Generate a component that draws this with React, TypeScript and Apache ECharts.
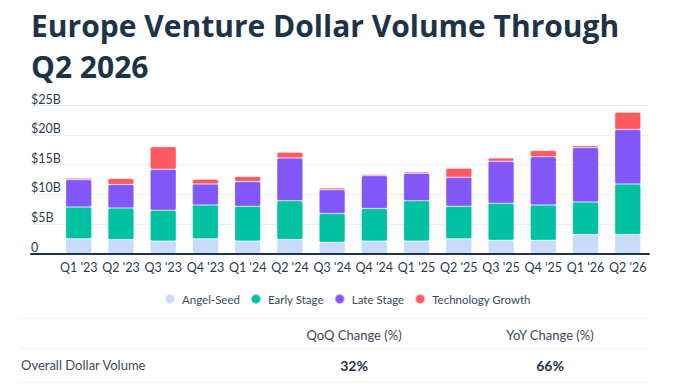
import React, { useEffect, useRef } from "react";
import * as echarts from "echarts";

const quarters = ["Q1 '23", "Q2 '23", "Q3 '23", "Q4 '23", "Q1 '24", "Q2 '24", "Q3 '24", "Q4 '24", "Q1 '25", "Q2 '25", "Q3 '25", "Q4 '25", "Q1 '26", "Q2 '26"];
const angelSeed = [2.5, 2.35, 2.1, 2.5, 2.1, 2.35, 1.9, 2.1, 2.1, 2.5, 2.25, 2.25, 3.2, 3.2];
const earlyStage = [5.35, 5.35, 5.2, 5.7, 5.9, 6.55, 4.85, 5.5, 6.8, 5.5, 6.25, 5.95, 5.5, 8.55];
const lateStage = [4.6, 3.95, 6.95, 3.55, 4.15, 7.25, 4.0, 5.55, 4.65, 4.9, 7.1, 8.15, 9.2, 9.2];
const techGrowth = [0.25, 1.0, 3.8, 0.8, 0.85, 0.95, 0.3, 0.2, 0.2, 1.5, 0.55, 1.05, 0.3, 2.9];
const seriesNames = ["Angel-Seed", "Early Stage", "Late Stage", "Technology Growth"];
const seriesColors = ["#c9dbfb", "#00c1a2", "#8158f7", "#fe5a62"];
const yTicks = [0, 5, 10, 15, 20, 25];
const tableHeaders = ["QoQ Change (%)", "YoY Change (%)"];
const tableRowLabel = "Overall Dollar Volume";
const tableRowValues = ["32%", "66%"];

const FONT = "Lato";
const DARK = "#1d3448";

export default function App() {
  const ref = useRef<HTMLDivElement>(null);
  useEffect(() => {
    if (!ref.current) return;
    const chart = echarts.init(ref.current, undefined, { renderer: "svg" });
    const data = [angelSeed, earlyStage, lateStage, techGrowth];
    const colX = [354, 550];
    chart.setOption({
      animation: false,
      backgroundColor: "#ffffff",
      title: {
        text: "Europe Venture Dollar Volume Through\nQ2 2026",
        left: 26,
        top: 0,
        textStyle: { fontFamily: "Open Sans", fontWeight: "bold", fontSize: 30, lineHeight: 41, color: DARK },
      },
      legend: {
        left: 159,
        top: 288,
        icon: "circle",
        itemWidth: 10,
        itemHeight: 10,
        itemGap: 10,
        data: seriesNames,
        textStyle: { fontFamily: FONT, fontSize: 11.5, color: "#3a4b5a", padding: [0, 0, 0, 2] },
      },
      grid: [
        { left: 31, right: 31, top: 105.5, height: 148 },
        { left: 57.6, right: 31.1, top: 105.5, height: 148 },
      ],
      xAxis: [
        {
          gridIndex: 0,
          type: "category",
          data: [""],
          z: 5,
          axisLine: { show: true, lineStyle: { color: DARK, width: 2 } },
          axisTick: { show: false },
          axisLabel: { show: false },
        },
        {
          gridIndex: 1,
          type: "category",
          data: quarters,
          axisLine: { show: false },
          axisTick: { show: false },
          axisLabel: { interval: 0, fontFamily: FONT, fontSize: 12.5, color: "#2a3c4e", margin: 7 },
        },
      ],
      yAxis: [
        {
          gridIndex: 0,
          type: "value",
          min: yTicks[0],
          max: yTicks[yTicks.length - 1],
          interval: 5,
          axisLine: { show: false },
          axisTick: { show: false },
          splitLine: { lineStyle: { color: "#eceff1", width: 1 } },
          axisLabel: {
            inside: true,
            margin: 0,
            verticalAlign: "bottom",
            padding: [0, 0, 0, 0],
            fontFamily: FONT,
            fontSize: 12.5,
            color: "#2a3c4e",
            formatter: (v: number) => (v === 0 ? "0" : `$${v}B`),
          },
        },
        { gridIndex: 1, type: "value", min: 0, max: 25, show: false },
      ],
      series: seriesNames.map((name, i) => ({
        name,
        type: "bar",
        stack: "total",
        xAxisIndex: 1,
        yAxisIndex: 1,
        barWidth: 26,
        data: data[i],
        itemStyle: {
          color: seriesColors[i],
          borderRadius: 1.5,
          borderColor: "rgba(255,255,255,0.5)",
          borderWidth: 0.5,
        },
      })),
      graphic: [
        { type: "line", shape: { x1: 20, y1: 318.5, x2: 650, y2: 318.5 }, style: { stroke: "#eef0f2", lineWidth: 1 } },
        { type: "line", shape: { x1: 20, y1: 348.5, x2: 650, y2: 348.5 }, style: { stroke: "#eef0f2", lineWidth: 1 } },
        { type: "line", shape: { x1: 20, y1: 382.5, x2: 650, y2: 382.5 }, style: { stroke: "#eef0f2", lineWidth: 1 } },
        ...tableHeaders.map((t, i) => ({
          type: "text",
          x: colX[i],
          y: 335,
          style: { text: t, fontFamily: FONT, fontSize: 13, fill: "#3a4b5a", textAlign: "center", textVerticalAlign: "middle" },
        })),
        {
          type: "text",
          x: 21,
          y: 365,
          style: { text: tableRowLabel, fontFamily: FONT, fontSize: 13, fill: "#3a4b5a", textAlign: "left", textVerticalAlign: "middle" },
        },
        ...tableRowValues.map((t, i) => ({
          type: "text",
          x: colX[i],
          y: 365,
          style: { text: t, fontFamily: FONT, fontSize: 14, fontWeight: "bold", fill: DARK, textAlign: "center", textVerticalAlign: "middle" },
        })),
      ],
    });
    return () => chart.dispose();
  }, []);
  return <div ref={ref} style={{ width: 680, height: 384, position: "absolute", left: 0, top: 0 }} />;
}
